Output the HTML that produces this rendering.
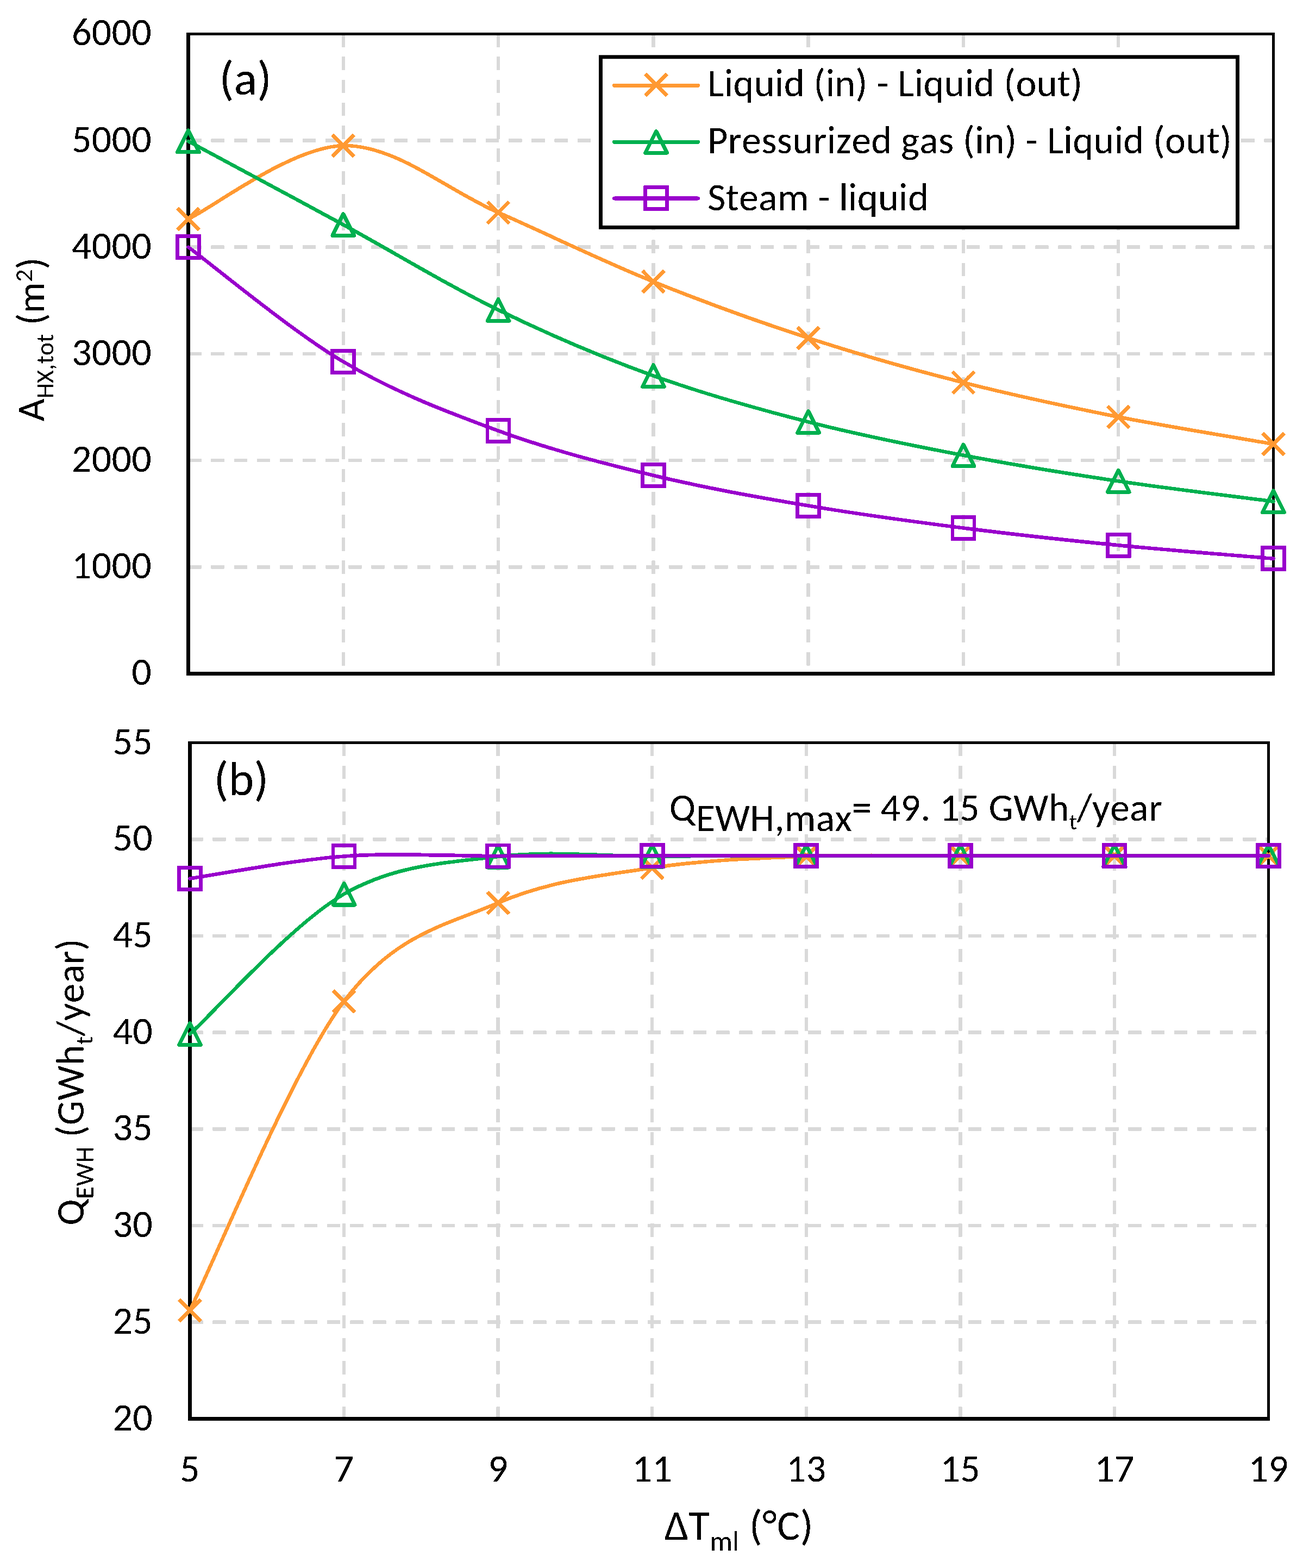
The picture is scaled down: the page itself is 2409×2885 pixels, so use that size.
<!DOCTYPE html>
<html><head><meta charset="utf-8"><title>Chart</title>
<style>html,body{margin:0;padding:0;background:#fff;width:2409px;height:2885px;overflow:hidden}svg{display:block}text{font-kerning:none;letter-spacing:0.3px;font-size-adjust:0.47754}</style>
</head><body>
<svg width="2409" height="2885" viewBox="0 0 2409 2885" font-family="Carlito, 'Liberation Sans', Arial, sans-serif" fill="#000">
<defs><filter id="crisp" x="0" y="0" width="2409" height="2885" filterUnits="userSpaceOnUse"><feComponentTransfer><feFuncA type="discrete" tableValues="0 1"/></feComponentTransfer></filter></defs><rect width="2409" height="2885" fill="#fff"/>
<g filter="url(#crisp)">
<line x1="346.30" y1="1043.23" x2="2343.50" y2="1043.23" stroke="#D9D9D9" stroke-width="6.50" stroke-dasharray="24.5 17.63"/>
<line x1="346.30" y1="847.07" x2="2343.50" y2="847.07" stroke="#D9D9D9" stroke-width="6.50" stroke-dasharray="24.5 17.63"/>
<line x1="346.30" y1="650.90" x2="2343.50" y2="650.90" stroke="#D9D9D9" stroke-width="6.50" stroke-dasharray="24.5 17.63"/>
<line x1="346.30" y1="454.73" x2="2343.50" y2="454.73" stroke="#D9D9D9" stroke-width="6.50" stroke-dasharray="24.5 17.63"/>
<line x1="346.30" y1="258.57" x2="2343.50" y2="258.57" stroke="#D9D9D9" stroke-width="6.50" stroke-dasharray="24.5 17.63"/>
<line x1="631.79" y1="62.40" x2="631.79" y2="1239.40" stroke="#D9D9D9" stroke-width="6.50" stroke-dasharray="24.5 17.63"/>
<line x1="917.07" y1="62.40" x2="917.07" y2="1239.40" stroke="#D9D9D9" stroke-width="6.50" stroke-dasharray="24.5 17.63"/>
<line x1="1202.36" y1="62.40" x2="1202.36" y2="1239.40" stroke="#D9D9D9" stroke-width="6.50" stroke-dasharray="24.5 17.63"/>
<line x1="1487.64" y1="62.40" x2="1487.64" y2="1239.40" stroke="#D9D9D9" stroke-width="6.50" stroke-dasharray="24.5 17.63"/>
<line x1="1772.93" y1="62.40" x2="1772.93" y2="1239.40" stroke="#D9D9D9" stroke-width="6.50" stroke-dasharray="24.5 17.63"/>
<line x1="2058.21" y1="62.40" x2="2058.21" y2="1239.40" stroke="#D9D9D9" stroke-width="6.50" stroke-dasharray="24.5 17.63"/>
<line x1="349.10" y1="2432.79" x2="2334.50" y2="2432.79" stroke="#D9D9D9" stroke-width="6.50" stroke-dasharray="24.5 17.63"/>
<line x1="349.10" y1="2255.07" x2="2334.50" y2="2255.07" stroke="#D9D9D9" stroke-width="6.50" stroke-dasharray="24.5 17.63"/>
<line x1="349.10" y1="2077.36" x2="2334.50" y2="2077.36" stroke="#D9D9D9" stroke-width="6.50" stroke-dasharray="24.5 17.63"/>
<line x1="349.10" y1="1899.64" x2="2334.50" y2="1899.64" stroke="#D9D9D9" stroke-width="6.50" stroke-dasharray="24.5 17.63"/>
<line x1="349.10" y1="1721.93" x2="2334.50" y2="1721.93" stroke="#D9D9D9" stroke-width="6.50" stroke-dasharray="24.5 17.63"/>
<line x1="349.10" y1="1544.21" x2="2334.50" y2="1544.21" stroke="#D9D9D9" stroke-width="6.50" stroke-dasharray="24.5 17.63"/>
<line x1="633.07" y1="1366.50" x2="633.07" y2="2610.50" stroke="#D9D9D9" stroke-width="6.50" stroke-dasharray="24.5 17.63"/>
<line x1="916.64" y1="1366.50" x2="916.64" y2="2610.50" stroke="#D9D9D9" stroke-width="6.50" stroke-dasharray="24.5 17.63"/>
<line x1="1200.21" y1="1366.50" x2="1200.21" y2="2610.50" stroke="#D9D9D9" stroke-width="6.50" stroke-dasharray="24.5 17.63"/>
<line x1="1483.79" y1="1366.50" x2="1483.79" y2="2610.50" stroke="#D9D9D9" stroke-width="6.50" stroke-dasharray="24.5 17.63"/>
<line x1="1767.36" y1="1366.50" x2="1767.36" y2="2610.50" stroke="#D9D9D9" stroke-width="6.50" stroke-dasharray="24.5 17.63"/>
<line x1="2050.93" y1="1366.50" x2="2050.93" y2="2610.50" stroke="#D9D9D9" stroke-width="6.50" stroke-dasharray="24.5 17.63"/>
</g>
<g filter="url(#crisp)">
<rect x="343.10" y="59.90" width="6.80" height="1182.80" fill="#000"/>
<rect x="2340.90" y="59.90" width="5.00" height="1182.80" fill="#000"/>
<rect x="343.10" y="59.90" width="2002.80" height="5.00" fill="#000"/>
<rect x="343.10" y="1236.10" width="2002.80" height="6.60" fill="#000"/>
<rect x="346.10" y="1363.90" width="6.70" height="1250.10" fill="#000"/>
<rect x="2332.00" y="1363.90" width="4.90" height="1250.10" fill="#000"/>
<rect x="346.10" y="1363.90" width="1990.80" height="5.20" fill="#000"/>
<rect x="346.10" y="2607.00" width="1990.80" height="7.00" fill="#000"/>
</g>
<g filter="url(#crisp)">
<path d="M346.50,403.00 C394.05,380.50 536.69,269.98 631.79,268.00 C726.88,266.02 821.98,349.40 917.07,391.10 C1012.17,432.80 1107.26,479.73 1202.36,518.20 C1297.45,556.67 1392.55,590.95 1487.64,621.90 C1582.74,652.85 1677.83,679.70 1772.93,703.90 C1868.02,728.10 1963.12,748.25 2058.21,767.10 C2153.31,785.95 2295.95,808.68 2343.50,817.00" stroke="#FF9933" stroke-width="6.60" fill="none" stroke-linecap="round" stroke-linejoin="round"/>
<path d="M326.50,383.00L366.50,423.00M326.50,423.00L366.50,383.00" stroke="#FF9933" stroke-width="6.80" fill="none"/>
<path d="M611.79,248.00L651.79,288.00M611.79,288.00L651.79,248.00" stroke="#FF9933" stroke-width="6.80" fill="none"/>
<path d="M897.07,371.10L937.07,411.10M897.07,411.10L937.07,371.10" stroke="#FF9933" stroke-width="6.80" fill="none"/>
<path d="M1182.36,498.20L1222.36,538.20M1182.36,538.20L1222.36,498.20" stroke="#FF9933" stroke-width="6.80" fill="none"/>
<path d="M1467.64,601.90L1507.64,641.90M1467.64,641.90L1507.64,601.90" stroke="#FF9933" stroke-width="6.80" fill="none"/>
<path d="M1752.93,683.90L1792.93,723.90M1752.93,723.90L1792.93,683.90" stroke="#FF9933" stroke-width="6.80" fill="none"/>
<path d="M2038.21,747.10L2078.21,787.10M2038.21,787.10L2078.21,747.10" stroke="#FF9933" stroke-width="6.80" fill="none"/>
<path d="M2323.50,797.00L2363.50,837.00M2323.50,837.00L2363.50,797.00" stroke="#FF9933" stroke-width="6.80" fill="none"/>
<path d="M346.50,259.90 C394.05,285.50 536.69,361.77 631.79,413.50 C726.88,465.23 821.98,523.98 917.07,570.30 C1012.17,616.62 1107.26,657.07 1202.36,691.40 C1297.45,725.73 1392.55,751.92 1487.64,776.30 C1582.74,800.68 1677.83,819.53 1772.93,837.70 C1868.02,855.87 1963.12,871.13 2058.21,885.30 C2153.31,899.47 2295.95,916.47 2343.50,922.70" stroke="#00B050" stroke-width="6.60" fill="none" stroke-linecap="round" stroke-linejoin="round"/>
<path d="M346.50,239.90L366.50,279.90L326.50,279.90Z" stroke="#00B050" stroke-width="6.80" fill="none" stroke-linejoin="round"/>
<path d="M631.79,393.50L651.79,433.50L611.79,433.50Z" stroke="#00B050" stroke-width="6.80" fill="none" stroke-linejoin="round"/>
<path d="M917.07,550.30L937.07,590.30L897.07,590.30Z" stroke="#00B050" stroke-width="6.80" fill="none" stroke-linejoin="round"/>
<path d="M1202.36,671.40L1222.36,711.40L1182.36,711.40Z" stroke="#00B050" stroke-width="6.80" fill="none" stroke-linejoin="round"/>
<path d="M1487.64,756.30L1507.64,796.30L1467.64,796.30Z" stroke="#00B050" stroke-width="6.80" fill="none" stroke-linejoin="round"/>
<path d="M1772.93,817.70L1792.93,857.70L1752.93,857.70Z" stroke="#00B050" stroke-width="6.80" fill="none" stroke-linejoin="round"/>
<path d="M2058.21,865.30L2078.21,905.30L2038.21,905.30Z" stroke="#00B050" stroke-width="6.80" fill="none" stroke-linejoin="round"/>
<path d="M2343.50,902.70L2363.50,942.70L2323.50,942.70Z" stroke="#00B050" stroke-width="6.80" fill="none" stroke-linejoin="round"/>
<path d="M346.50,454.70 C394.05,489.83 536.69,609.18 631.79,665.50 C726.88,721.82 821.98,757.73 917.07,792.60 C1012.17,827.47 1107.26,851.72 1202.36,874.70 C1297.45,897.68 1392.55,914.37 1487.64,930.50 C1582.74,946.63 1677.83,959.37 1772.93,971.50 C1868.02,983.63 1963.12,993.93 2058.21,1003.30 C2153.31,1012.67 2295.95,1023.63 2343.50,1027.70" stroke="#9900CC" stroke-width="6.60" fill="none" stroke-linecap="round" stroke-linejoin="round"/>
<rect x="326.50" y="434.70" width="40.00" height="40.00" stroke="#9900CC" stroke-width="6.80" fill="none"/>
<rect x="611.79" y="645.50" width="40.00" height="40.00" stroke="#9900CC" stroke-width="6.80" fill="none"/>
<rect x="897.07" y="772.60" width="40.00" height="40.00" stroke="#9900CC" stroke-width="6.80" fill="none"/>
<rect x="1182.36" y="854.70" width="40.00" height="40.00" stroke="#9900CC" stroke-width="6.80" fill="none"/>
<rect x="1467.64" y="910.50" width="40.00" height="40.00" stroke="#9900CC" stroke-width="6.80" fill="none"/>
<rect x="1752.93" y="951.50" width="40.00" height="40.00" stroke="#9900CC" stroke-width="6.80" fill="none"/>
<rect x="2038.21" y="983.30" width="40.00" height="40.00" stroke="#9900CC" stroke-width="6.80" fill="none"/>
<rect x="2323.50" y="1007.70" width="40.00" height="40.00" stroke="#9900CC" stroke-width="6.80" fill="none"/>
</g>
<g filter="url(#crisp)">
<path d="M349.50,2410.90 C396.76,2316.13 538.55,1967.23 633.07,1842.30 C727.60,1717.37 822.12,1702.22 916.64,1661.30 C1011.17,1620.38 1105.69,1611.10 1200.21,1596.80 C1294.74,1582.50 1389.26,1579.20 1483.79,1575.50 C1578.31,1571.80 1672.83,1574.75 1767.36,1574.60 C1861.88,1574.45 1956.40,1574.60 2050.93,1574.60 C2145.45,1574.60 2287.24,1574.60 2334.50,1574.60" stroke="#FF9933" stroke-width="6.60" fill="none" stroke-linecap="round" stroke-linejoin="round"/>
<path d="M329.50,2390.90L369.50,2430.90M329.50,2430.90L369.50,2390.90" stroke="#FF9933" stroke-width="6.80" fill="none"/>
<path d="M613.07,1822.30L653.07,1862.30M613.07,1862.30L653.07,1822.30" stroke="#FF9933" stroke-width="6.80" fill="none"/>
<path d="M896.64,1641.30L936.64,1681.30M896.64,1681.30L936.64,1641.30" stroke="#FF9933" stroke-width="6.80" fill="none"/>
<path d="M1180.21,1576.80L1220.21,1616.80M1180.21,1616.80L1220.21,1576.80" stroke="#FF9933" stroke-width="6.80" fill="none"/>
<path d="M1463.79,1555.50L1503.79,1595.50M1463.79,1595.50L1503.79,1555.50" stroke="#FF9933" stroke-width="6.80" fill="none"/>
<path d="M1747.36,1554.60L1787.36,1594.60M1747.36,1594.60L1787.36,1554.60" stroke="#FF9933" stroke-width="6.80" fill="none"/>
<path d="M2030.93,1554.60L2070.93,1594.60M2030.93,1594.60L2070.93,1554.60" stroke="#FF9933" stroke-width="6.80" fill="none"/>
<path d="M2314.50,1554.60L2354.50,1594.60M2314.50,1594.60L2354.50,1554.60" stroke="#FF9933" stroke-width="6.80" fill="none"/>
<path d="M349.50,1902.50 C396.76,1859.58 538.55,1699.42 633.07,1645.00 C727.60,1590.58 822.12,1587.62 916.64,1576.00 C1011.17,1564.38 1105.69,1575.50 1200.21,1575.30 C1294.74,1575.10 1389.26,1574.92 1483.79,1574.80 C1578.31,1574.68 1672.83,1574.63 1767.36,1574.60 C1861.88,1574.57 1956.40,1574.60 2050.93,1574.60 C2145.45,1574.60 2287.24,1574.60 2334.50,1574.60" stroke="#00B050" stroke-width="6.60" fill="none" stroke-linecap="round" stroke-linejoin="round"/>
<path d="M349.50,1882.50L369.50,1922.50L329.50,1922.50Z" stroke="#00B050" stroke-width="6.80" fill="none" stroke-linejoin="round"/>
<path d="M633.07,1625.00L653.07,1665.00L613.07,1665.00Z" stroke="#00B050" stroke-width="6.80" fill="none" stroke-linejoin="round"/>
<path d="M916.64,1556.00L936.64,1596.00L896.64,1596.00Z" stroke="#00B050" stroke-width="6.80" fill="none" stroke-linejoin="round"/>
<path d="M1200.21,1555.30L1220.21,1595.30L1180.21,1595.30Z" stroke="#00B050" stroke-width="6.80" fill="none" stroke-linejoin="round"/>
<path d="M1483.79,1554.80L1503.79,1594.80L1463.79,1594.80Z" stroke="#00B050" stroke-width="6.80" fill="none" stroke-linejoin="round"/>
<path d="M1767.36,1554.60L1787.36,1594.60L1747.36,1594.60Z" stroke="#00B050" stroke-width="6.80" fill="none" stroke-linejoin="round"/>
<path d="M2050.93,1554.60L2070.93,1594.60L2030.93,1594.60Z" stroke="#00B050" stroke-width="6.80" fill="none" stroke-linejoin="round"/>
<path d="M2334.50,1554.60L2354.50,1594.60L2314.50,1594.60Z" stroke="#00B050" stroke-width="6.80" fill="none" stroke-linejoin="round"/>
<path d="M349.50,1616.40 C396.76,1609.58 538.55,1582.40 633.07,1575.50 C727.60,1568.60 822.12,1575.17 916.64,1575.00 C1011.17,1574.83 1105.69,1574.58 1200.21,1574.50 C1294.74,1574.42 1389.26,1574.50 1483.79,1574.50 C1578.31,1574.50 1672.83,1574.50 1767.36,1574.50 C1861.88,1574.50 1956.40,1574.50 2050.93,1574.50 C2145.45,1574.50 2287.24,1574.50 2334.50,1574.50" stroke="#9900CC" stroke-width="6.60" fill="none" stroke-linecap="round" stroke-linejoin="round"/>
<rect x="329.50" y="1596.40" width="40.00" height="40.00" stroke="#9900CC" stroke-width="6.80" fill="none"/>
<rect x="613.07" y="1555.50" width="40.00" height="40.00" stroke="#9900CC" stroke-width="6.80" fill="none"/>
<rect x="896.64" y="1555.00" width="40.00" height="40.00" stroke="#9900CC" stroke-width="6.80" fill="none"/>
<rect x="1180.21" y="1554.50" width="40.00" height="40.00" stroke="#9900CC" stroke-width="6.80" fill="none"/>
<rect x="1463.79" y="1554.50" width="40.00" height="40.00" stroke="#9900CC" stroke-width="6.80" fill="none"/>
<rect x="1747.36" y="1554.50" width="40.00" height="40.00" stroke="#9900CC" stroke-width="6.80" fill="none"/>
<rect x="2030.93" y="1554.50" width="40.00" height="40.00" stroke="#9900CC" stroke-width="6.80" fill="none"/>
<rect x="2314.50" y="1554.50" width="40.00" height="40.00" stroke="#9900CC" stroke-width="6.80" fill="none"/>
</g>
<g>
<rect x="1105.50" y="104.80" width="1172.00" height="313.60" fill="#fff" stroke="#000" stroke-width="6.9"/>
</g>
<g filter="url(#crisp)">
<line x1="1130.4" y1="157.30" x2="1284.7" y2="157.30" stroke="#FF9933" stroke-width="6.9" stroke-linecap="round"/>
<path d="M1187.60,136.20L1227.60,176.20M1187.60,176.20L1227.60,136.20" stroke="#FF9933" stroke-width="6.80" fill="none"/>
<line x1="1130.4" y1="261.20" x2="1284.7" y2="261.20" stroke="#00B050" stroke-width="6.9" stroke-linecap="round"/>
<path d="M1207.60,241.30L1227.60,281.30L1187.60,281.30Z" stroke="#00B050" stroke-width="6.80" fill="none" stroke-linejoin="round"/>
<line x1="1130.4" y1="365.00" x2="1284.7" y2="365.00" stroke="#9900CC" stroke-width="6.9" stroke-linecap="round"/>
<rect x="1187.60" y="344.80" width="40.00" height="40.00" stroke="#9900CC" stroke-width="6.80" fill="none"/>
</g>
<g filter="url(#crisp)">
<text x="1302.20" y="177.00" font-size="72"><tspan textLength="690.16" lengthAdjust="spacingAndGlyphs">Liquid (in) - Liquid (out)</tspan></text>
<text x="1302.20" y="282.30" font-size="72"><tspan textLength="964.86" lengthAdjust="spacingAndGlyphs">Pressurized gas (in) - Liquid (out)</tspan></text>
<text x="1302.20" y="387.40" font-size="72"><tspan textLength="406.89" lengthAdjust="spacingAndGlyphs">Steam - liquid</tspan></text>
<text x="279.10" y="1260.40" font-size="72" text-anchor="end"><tspan textLength="36.80" lengthAdjust="spacingAndGlyphs">0</tspan></text>
<text x="279.10" y="1064.23" font-size="72" text-anchor="end"><tspan textLength="147.17" lengthAdjust="spacingAndGlyphs">1000</tspan></text>
<text x="279.10" y="868.07" font-size="72" text-anchor="end"><tspan textLength="147.17" lengthAdjust="spacingAndGlyphs">2000</tspan></text>
<text x="279.10" y="671.90" font-size="72" text-anchor="end"><tspan textLength="147.17" lengthAdjust="spacingAndGlyphs">3000</tspan></text>
<text x="279.10" y="475.73" font-size="72" text-anchor="end"><tspan textLength="147.17" lengthAdjust="spacingAndGlyphs">4000</tspan></text>
<text x="279.10" y="279.57" font-size="72" text-anchor="end"><tspan textLength="147.17" lengthAdjust="spacingAndGlyphs">5000</tspan></text>
<text x="279.10" y="83.40" font-size="72" text-anchor="end"><tspan textLength="147.17" lengthAdjust="spacingAndGlyphs">6000</tspan></text>
<text x="403.40" y="173.60" font-size="89" style="letter-spacing:0"><tspan textLength="96.61" lengthAdjust="spacingAndGlyphs">(a)</tspan></text>
<text transform="translate(81.2,775.3) rotate(-90)" font-size="72" style="letter-spacing:0"><tspan textLength="41.67" lengthAdjust="spacingAndGlyphs">A</tspan><tspan font-size="46" dy="16.80" textLength="119.09" lengthAdjust="spacingAndGlyphs">HX,tot</tspan><tspan dy="-16.80" textLength="95.62" lengthAdjust="spacingAndGlyphs"> (m</tspan><tspan font-size="46" dy="-22.40" textLength="23.33" lengthAdjust="spacingAndGlyphs">2</tspan><tspan dy="22.40" textLength="21.84" lengthAdjust="spacingAndGlyphs">)</tspan></text>
<text x="281.00" y="2631.50" font-size="72" text-anchor="end"><tspan textLength="73.59" lengthAdjust="spacingAndGlyphs">20</tspan></text>
<text x="281.00" y="2453.79" font-size="72" text-anchor="end"><tspan textLength="73.59" lengthAdjust="spacingAndGlyphs">25</tspan></text>
<text x="281.00" y="2276.07" font-size="72" text-anchor="end"><tspan textLength="73.59" lengthAdjust="spacingAndGlyphs">30</tspan></text>
<text x="281.00" y="2098.36" font-size="72" text-anchor="end"><tspan textLength="73.59" lengthAdjust="spacingAndGlyphs">35</tspan></text>
<text x="281.00" y="1920.64" font-size="72" text-anchor="end"><tspan textLength="73.59" lengthAdjust="spacingAndGlyphs">40</tspan></text>
<text x="281.00" y="1742.93" font-size="72" text-anchor="end"><tspan textLength="73.59" lengthAdjust="spacingAndGlyphs">45</tspan></text>
<text x="281.00" y="1565.21" font-size="72" text-anchor="end"><tspan textLength="73.59" lengthAdjust="spacingAndGlyphs">50</tspan></text>
<text x="281.00" y="1387.50" font-size="72" text-anchor="end"><tspan textLength="73.59" lengthAdjust="spacingAndGlyphs">55</tspan></text>
<text x="349.50" y="2725.50" font-size="72" text-anchor="middle"><tspan textLength="36.80" lengthAdjust="spacingAndGlyphs">5</tspan></text>
<text x="633.07" y="2725.50" font-size="72" text-anchor="middle"><tspan textLength="36.80" lengthAdjust="spacingAndGlyphs">7</tspan></text>
<text x="916.64" y="2725.50" font-size="72" text-anchor="middle"><tspan textLength="36.80" lengthAdjust="spacingAndGlyphs">9</tspan></text>
<text x="1200.21" y="2725.50" font-size="72" text-anchor="middle"><tspan textLength="73.59" lengthAdjust="spacingAndGlyphs">11</tspan></text>
<text x="1483.79" y="2725.50" font-size="72" text-anchor="middle"><tspan textLength="73.59" lengthAdjust="spacingAndGlyphs">13</tspan></text>
<text x="1767.36" y="2725.50" font-size="72" text-anchor="middle"><tspan textLength="73.59" lengthAdjust="spacingAndGlyphs">15</tspan></text>
<text x="2050.93" y="2725.50" font-size="72" text-anchor="middle"><tspan textLength="73.59" lengthAdjust="spacingAndGlyphs">17</tspan></text>
<text x="2334.50" y="2725.50" font-size="72" text-anchor="middle"><tspan textLength="73.59" lengthAdjust="spacingAndGlyphs">19</tspan></text>
<text x="393.50" y="1463.00" font-size="89" style="letter-spacing:0"><tspan textLength="100.73" lengthAdjust="spacingAndGlyphs">(b)</tspan></text>
<text x="1231.80" y="1510.00" font-size="72"><tspan textLength="48.75" lengthAdjust="spacingAndGlyphs">Q</tspan><tspan dy="19.30" textLength="287.33" lengthAdjust="spacingAndGlyphs">EWH,max</tspan><tspan dy="-19.30" textLength="399.75" lengthAdjust="spacingAndGlyphs">= 49. 15 GWh</tspan><tspan font-size="42" dy="16.00" textLength="14.38" lengthAdjust="spacingAndGlyphs">t</tspan><tspan dy="-16.00" textLength="157.31" lengthAdjust="spacingAndGlyphs">/year</tspan></text>
<text transform="translate(153.5,2254.7) rotate(-90)" font-size="72"><tspan textLength="48.75" lengthAdjust="spacingAndGlyphs">Q</tspan><tspan font-size="48" dy="17.60" textLength="96.95" lengthAdjust="spacingAndGlyphs">EWH</tspan><tspan dy="-17.60" textLength="186.92" lengthAdjust="spacingAndGlyphs"> (GWh</tspan><tspan font-size="46" dy="17.00" textLength="15.72" lengthAdjust="spacingAndGlyphs">t</tspan><tspan dy="-17.00" textLength="179.45" lengthAdjust="spacingAndGlyphs">/year)</tspan></text>
<text x="1222.70" y="2833.00" font-size="79"><tspan textLength="83.70" lengthAdjust="spacingAndGlyphs">&#916;T</tspan><tspan font-size="52" dy="20.00" textLength="54.08" lengthAdjust="spacingAndGlyphs">ml</tspan><tspan dy="-20.00" textLength="136.17" lengthAdjust="spacingAndGlyphs"> (&#176;C)</tspan></text>
</g>
</svg>
</body></html>
